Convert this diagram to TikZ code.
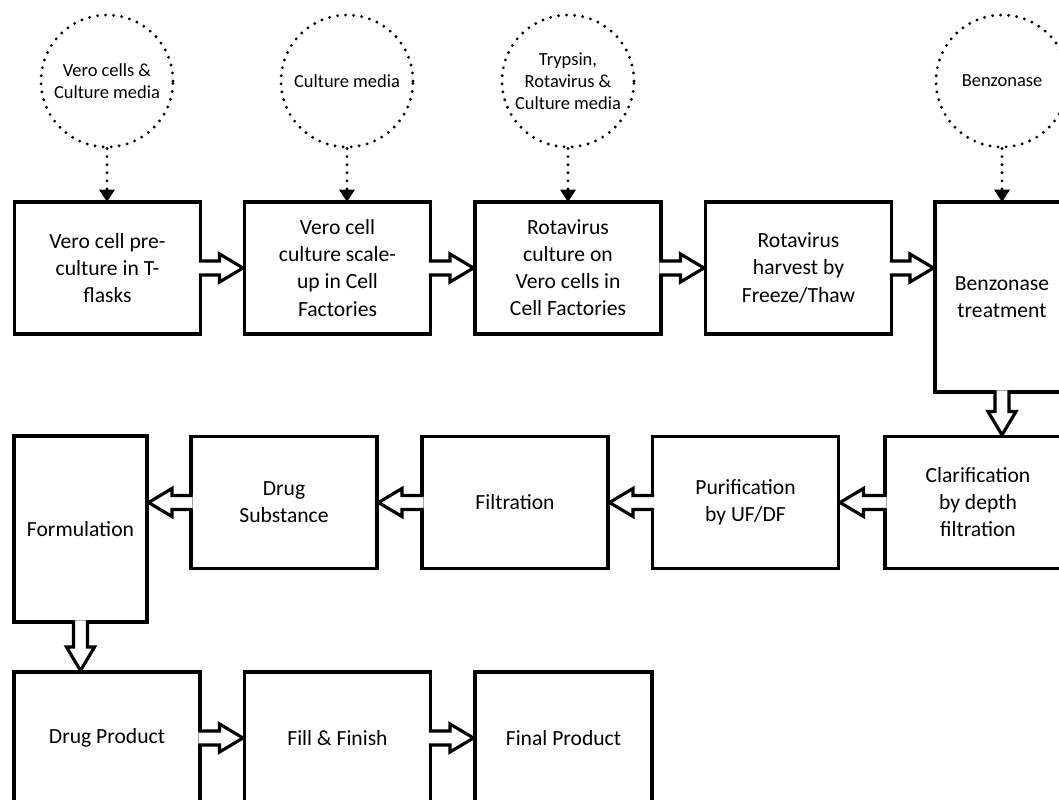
\documentclass[tikz,border=0pt]{standalone}
\usepackage{fontspec}
\setmainfont{Carlito}
\usepackage{tikz}
\usetikzlibrary{calc,arrows.meta}

% hollow block arrows between stages
\newcommand{\flowright}[2]{%
  \filldraw[flow] ($(#1.east)+(-1.6,-7)$)
    -- ($(#1.east -| #2.west)+(-25,-7)$) -- ($(#1.east -| #2.west)+(-25,-14)$)
    -- ($(#1.east -| #2.west)+(-1.5,0)$)
    -- ($(#1.east -| #2.west)+(-25,14)$) -- ($(#1.east -| #2.west)+(-25,7)$)
    -- ($(#1.east)+(-1.6,7)$);}
\newcommand{\flowleft}[2]{%
  \filldraw[flow] ($(#1.west)+(1.6,-7)$)
    -- ($(#1.west -| #2.east)+(25,-7)$) -- ($(#1.west -| #2.east)+(25,-14)$)
    -- ($(#1.west -| #2.east)+(1.5,0)$)
    -- ($(#1.west -| #2.east)+(25,14)$) -- ($(#1.west -| #2.east)+(25,7)$)
    -- ($(#1.west)+(1.6,7)$);}
\newcommand{\flowdown}[2]{%
  \filldraw[flow] ($(#1.south)+(-7,-1.6)$)
    -- ($(#1.south |- #2.north)+(-7,-25)$) -- ($(#1.south |- #2.north)+(-14,-25)$)
    -- ($(#1.south |- #2.north)+(0,-1.5)$)
    -- ($(#1.south |- #2.north)+(14,-25)$) -- ($(#1.south |- #2.north)+(7,-25)$)
    -- ($(#1.south)+(7,-1.6)$);}

\begin{document}
\begin{tikzpicture}[x=0.02cm, y=-0.02cm]
        \def\rowa{268}
        \def\rowb{502.5}
        \def\rowc{738}
        \tikzstyle{stage}=[rectangle, draw=black, line width=1.8pt, minimum width=3.72cm, minimum height=2.64cm, inner sep=2pt, outer sep=0pt, align=center, font=\fontsize{12.3}{15.4}\selectfont]
        \tikzstyle{supply}=[circle, draw=black, line width=1.8pt, dash pattern=on 0pt off 4.6pt, line cap=round, minimum size=2.64cm, inner sep=0pt, align=center, font=\fontsize{10.5}{12.5}\selectfont]
        \tikzstyle{feed}=[line width=1.8pt, dash pattern=on 0pt off 4.6pt, line cap=round, -{Triangle[width=8.5pt, length=7pt]}]
        \tikzstyle{flow}=[fill=white, draw=black, line width=1.8pt]

        \useasboundingbox (0,0) rectangle (1059,800);

        % Supplies
        \draw node at (107, 81) [supply] (vero) {Vero cells \&\\Culture media};
        \draw node at (347, 81) [supply] (media) {Culture media};
        \draw node at (568, 81) [supply] (trypsin) {Trypsin,\\Rotavirus \&\\Culture media};
        \draw node at (1002, 81) [supply] (enzyme) {Benzonase};

        % Upstream
        \draw node at (107.5, \rowa) [stage] (preculture) {Vero cell pre-\\culture in T-\\flasks};
        \draw node at (337.5, \rowa) [stage] (scaleup) {Vero cell\\culture scale-\\up in Cell\\Factories};
        \draw node at (568, \rowa) [stage] (infection) {Rotavirus\\culture on\\Vero cells in\\Cell Factories};
        \draw node at (798.5, \rowa) [stage] (harvest) {Rotavirus\\harvest by\\Freeze/Thaw};
        \draw node at (1002, 297) [stage, minimum width=2.68cm, minimum height=3.8cm] (benzonase) {Benzonase\\treatment};

        % Downstream
        \draw node at (978, \rowb) [stage] (clarification) {Clarification\\by depth\\filtration};
        \draw node at (745.5, \rowb) [stage] (purification) {Purification\\by UF/DF};
        \draw node at (515, \rowb) [stage] (filtration) {Filtration};
        \draw node at (284, \rowb) [stage] (substance) {Drug\\Substance};
        \draw node at (80.5, 529) [stage, minimum width=2.66cm, minimum height=3.72cm] (formulation) {Formulation};

        % Fill
        \draw node at (107, \rowc) [stage] (product) {Drug Product};
        \draw node at (337.5, \rowc) [stage] (fill) {Fill \& Finish};
        \draw node at (563.5, \rowc) [stage, minimum width=3.54cm] (final) {Final Product};

        % Supplies -> stages
        \foreach \c/\s in {vero/preculture, media/scaleup, trypsin/infection, enzyme/benzonase}
        \draw [feed] (\c) -- (\c.south |- \s.north);

        % Stage -> stage
        \foreach \a/\b in {preculture/scaleup, scaleup/infection, infection/harvest, harvest/benzonase, product/fill, fill/final}
        {\flowright{\a}{\b}}
        \foreach \a/\b in {clarification/purification, purification/filtration, filtration/substance, substance/formulation}
        {\flowleft{\a}{\b}}
        \flowdown{benzonase}{clarification}
        \flowdown{formulation}{product}

    \end{tikzpicture}
\end{document}
